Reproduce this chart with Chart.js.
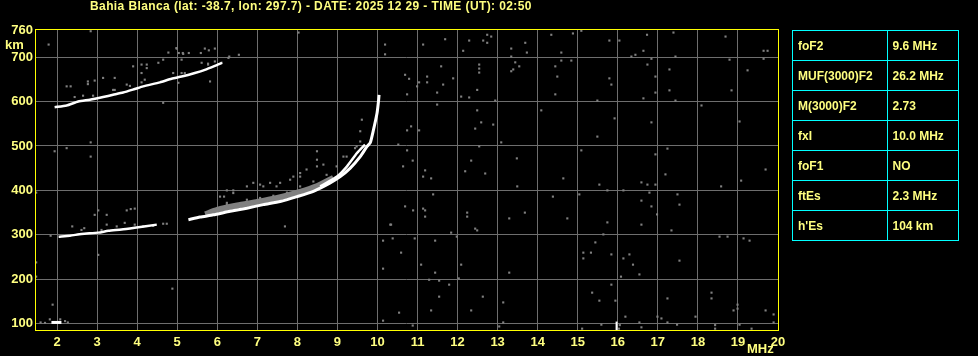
<!DOCTYPE html>
<html lang="en">
<head>
    <meta charset="UTF-8">
    <title>Ionogram Bahia Blanca</title>
    <script src="https://cdn.jsdelivr.net/npm/chart.js"></script>
    <style>
        body {
            margin: 0;
            background: #000;
            font-family: "Liberation Sans", Arial, sans-serif;
        }
        #wrap {
            position: relative;
            width: 978px;
            height: 356px;
        }
        #params {
            position: absolute;
            left: 792px;
            top: 30px;
            width: 167px;
            height: 211px;
            border-collapse: collapse;
            color: #ffff80;
            font-weight: bold;
            font-size: 12px;
        }
        #params td {
            border: 1px solid #00ffff;
            padding: 0 0 0 5px;
            height: 29px;
            white-space: nowrap;
        }
    </style>
</head>
<body>
<div id="wrap">
    <canvas id="iono" width="978" height="356"></canvas>
    <table id="params">
        <colgroup><col style="width:95px"><col style="width:72px"></colgroup>
    </table>
</div>

<script>
    // --- data (frequency MHz, virtual height km) ---
    const titleText = 'Bahia Blanca (lat: -38.7, lon: 297.7) - DATE: 2025 12 29 - TIME (UT): 02:50';
    const xTicks = [2, 3, 4, 5, 6, 7, 8, 9, 10, 11, 12, 13, 14, 15, 16, 17, 18, 19, 20];
    const yTicks = [100, 200, 300, 400, 500, 600, 700, 760];

    const paramNames = ['foF2', 'MUF(3000)F2', 'M(3000)F2', 'fxI', 'foF1', 'ftEs', "h'Es"];
    const paramValues = ['9.6 MHz', '26.2 MHz', '2.73', '10.0 MHz', 'NO', '2.3 MHz', '104 km'];

    // white traces
    const fTrace = [[5.28,334],[5.57,340],[5.90,345],[6.32,353],[6.74,360],[7.15,368],[7.57,375],[7.99,386],[8.40,398],[8.82,417],[9.07,431],[9.32,450],[9.57,476],[9.74,499],[9.82,507],[9.90,536],[9.99,574],[10.03,604],[10.04,615]];
    const fTraceO = [[8.57,409],[8.99,431],[9.24,454],[9.49,484],[9.69,503]];
    const f2Hop = [[1.94,587],[2.24,591],[2.53,600],[2.82,604],[3.15,610],[3.40,615],[3.65,620],[3.94,628],[4.15,634],[4.57,643],[4.86,651],[5.11,656],[5.44,664],[5.69,671],[5.94,680],[6.12,687]];
    const esHigh = [[2.04,296],[2.32,298],[2.61,302],[3.03,305],[3.28,309],[3.61,312],[3.94,316],[4.49,323]];
    const esLow = [[1.86,103],[1.95,103],[2.05,103],[2.11,103]];
    const spike16 = [[15.97,86],[15.97,105]];

    // grey spread above the F trace
    const fSpread = [[5.7,346],[6.0,356],[6.5,366],[7.0,374],[7.5,383],[8.0,395],[8.5,410],[8.9,428]];

    // grey echoes near the traces
    const clutter = [[4.78,710],[4.99,719],[5.04,709],[5.14,709],[5.29,709],[5.59,709],[5.69,719],[5.79,715],[5.94,719],[6.30,701],[6.54,705],
        [2.24,634],[2.34,634],[2.77,645],[2.77,639],[2.94,647],[3.15,653],[3.44,653],[3.40,626],[3.90,679],[4.11,683],[4.24,683],[4.24,675],[4.11,664],[4.19,649],
        [4.53,687],[4.65,694],[4.90,664],[5.11,694],[5.15,707],[5.61,687],[5.82,645],[6.28,698],[4.65,597],[5.03,642],[5.11,664],[5.77,683],[4.98,720],
        [2.44,610],[2.65,613],[2.90,613],[3.44,626],[4.11,643],[5.19,664],[5.77,685],[5.94,690],[6.11,687],[3.74,638],[3.82,635],
        [6.07,360],[6.24,372],[6.74,379],[7.07,383],[7.40,388],[7.74,395],[8.07,409],[8.40,420],[8.73,435],[8.98,454],[9.15,476],[8.49,488],[8.49,469],[8.49,454],
        [6.74,409],[7.07,413],[7.32,417],[7.57,417],[7.82,424],[8.07,439],[8.23,447],[8.65,458],[9.23,476],[9.48,499],[6.07,386],[6.40,394],[9.57,510],[9.61,559],
        [9.57,533],[9.44,495],[6.90,417],[7.15,409],[7.48,409],[7.90,431],[8.07,431],[5.89,356],[6.57,368],[7.24,379],[7.90,394],[8.57,413],
        [2.38,319],[2.61,311],[2.68,315],[3.11,311],[3.24,323],[3.49,319],[3.69,327],[3.94,323],[4.15,319],[4.40,320],[4.65,325],[4.74,325],
        [3.03,355],[2.94,345],[3.24,345],[3.74,355],[3.84,358],[3.94,359],[6.17,386],[6.24,400],[6.40,400],[6.15,360],[6.24,368],
        [1.82,110],[2.08,110],[2.20,106],[2.27,103],[1.70,102],[16.05,97]];

    // scattered noise
    const noiseHigh = [[11.14,728],[11.69,740],[12.29,737],[12.14,714],[12.64,737],[12.74,750],[12.84,746],[12.74,732],[13.34,719],[13.69,732],[13.73,710],[13.34,701],
        [14.34,750],[14.88,753],[15.09,759],[14.59,710],[14.59,692],[14.84,692],[15.79,737],[16.04,737],[16.73,750],[17.39,755],[16.64,714],[16.44,705],[16.34,701],
        [17.44,701],[16.84,696],[18.69,746],[18.79,694],[19.64,714],[19.74,714],[19.64,696],[10.69,660],[10.79,651],[11.24,656],[11.24,643],[11.04,643],[10.99,634],
        [11.59,679],[11.64,638],[11.89,652],[11.49,620],[10.74,616],[11.49,593],[12.54,683],[12.54,674],[12.54,665],[12.49,626],[12.29,609],[12.09,611],[12.94,602],
        [13.34,668],[13.39,672],[13.54,679],[13.44,688],[14.44,679],[14.49,656],[14.44,616],[15.49,602],[15.79,652],[15.84,638],[16.74,683],[16.94,656],[17.29,672],
        [17.29,625],[16.94,620],[16.64,607],[17.44,602],[18.84,625],[19.24,670],[18.09,591],[19.04,555],[14.09,580],[12.49,580],[12.59,553],[12.89,548],[12.44,539],
        [10.84,544],[10.74,535],[11.04,535],[15.92,562],[16.84,553],[15.49,521],[13.09,508],[12.54,499],[10.74,490],[10.88,467],[10.64,454],[11.19,445],[11.14,431],
        [11.34,427],[12.19,443],[12.34,467],[12.69,438],[13.48,472],[15.09,490],[14.64,427],[16.94,481],[17.24,494],[17.19,436],[19.69,447]];
    const noiseMid = [[13.49,409],[15.54,413],[16.59,418],[16.74,413],[16.94,413],[19.08,422],[18.58,409],[11.39,391],[10.69,364],[10.89,355],[11.14,359],[11.19,355],
        [11.19,341],[10.34,323],[12.24,350],[12.24,341],[11.84,305],[12.44,314],[12.49,310],[13.29,337],[13.68,350],[14.38,386],[14.74,337],[15.04,391],[15.74,400],
        [16.14,400],[16.79,395],[16.59,377],[16.84,364],[17.49,391],[17.54,368],[17.34,310],[16.98,346],[16.59,323],[15.74,328],[10.14,287],[10.38,292],[10.93,292],
        [11.44,287],[11.98,296],[10.59,260],[11.09,233],[10.14,224],[12.09,233],[11.44,215],[13.29,215],[15.64,301],[15.44,283],[15.14,260],[15.33,260],[15.14,247],
        [15.84,256],[16.14,247],[16.29,256],[16.38,233],[16.54,211],[16.08,206],[17.54,242],[18.54,296],[18.74,296],[19.14,292],[19.29,287]];
    const noiseLow = [[11.29,199],[11.54,197],[12.03,202],[11.79,188],[11.54,161],[12.63,161],[11.34,130],[10.54,125],[10.14,107],[10.88,96],[12.34,130],[13.14,148],
        [13.04,94],[13.14,103],[15.36,170],[15.84,188],[15.54,152],[15.94,152],[16.19,116],[16.54,103],[16.59,92],[17.24,157],[17.09,112],[17.24,103],[17.48,98],
        [16.99,116],[17.94,116],[18.34,170],[18.34,157],[18.43,97],[18.43,89],[18.89,130],[18.99,143],[18.99,134],[19.04,98],[19.34,89],[19.69,130],[19.89,121],
        [19.89,103],[15.11,89],[15.59,98],[16.03,89]];
    const noiseLeft = [[1.79,728],[2.84,758],[8.03,755],[10.19,728],[10.19,706],[1.94,488],[2.24,495],[2.84,508],[2.84,476],[1.48,395],[3.03,255],[1.48,238],
        [1.48,206],[4.88,179],[1.89,143],[1.59,103],[7.69,319],[10.32,323],[10.52,503],[1.84,298]];

    // parameter table
    const table = document.getElementById('params');
    paramNames.forEach((name, i) => {
        const row = table.insertRow();
        row.insertCell().textContent = name;
        row.insertCell().textContent = paramValues[i];
    });

    const pts = arr => arr.map(p => ({x: p[0], y: p[1]}));

    const trace = (arr, w) => ({
        data: pts(arr),
        showLine: true,
        borderColor: '#ffffff',
        borderWidth: w,
        pointRadius: 0,
        tension: 0.2
    });

    const dots = arr => ({
        data: pts(arr),
        pointStyle: 'rect',
        pointRadius: 1.5,
        borderWidth: 0,
        backgroundColor: '#808080'
    });

    const frame = {
        id: 'frame',
        afterDraw(chart) {
            const {ctx, chartArea: a} = chart;
            ctx.save();
            ctx.strokeStyle = '#ffff00';
            ctx.lineWidth = 1;
            ctx.strokeRect(Math.round(a.left) + 0.5, Math.round(a.top) + 0.5,
                Math.round(a.right - a.left), Math.round(a.bottom - a.top));
            ctx.fillStyle = '#ffff80';
            ctx.textBaseline = 'middle';
            ctx.font = 'bold 12px "Liberation Sans"';
            ctx.letterSpacing = '0.4px';
            ctx.fillText(titleText, 90, 7);
            ctx.letterSpacing = '0px';
            ctx.font = 'bold 13px "Liberation Sans"';
            ctx.fillText('km', 5, 45);
            ctx.fillText('MHz', 747, 349);
            ctx.restore();
        }
    };

    new Chart(document.getElementById('iono'), {
        type: 'scatter',
        data: {
            datasets: [
                trace(fTrace, 3),
                trace(fTraceO, 2.5),
                trace(f2Hop, 2.5),
                trace(esHigh, 2.5),
                trace(esLow, 3),
                trace(spike16, 2),
                {
                    data: pts(fSpread),
                    showLine: true,
                    borderColor: '#808080',
                    borderWidth: 6,
                    pointRadius: 0,
                    tension: 0.2
                },
                dots(clutter),
                dots(noiseHigh),
                dots(noiseMid),
                dots(noiseLow),
                dots(noiseLeft)
            ]
        },
        options: {
            responsive: false,
            animation: false,
            devicePixelRatio: 1,
            layout: {padding: {top: 29, right: 200, left: 0, bottom: 0}},
            plugins: {legend: {display: false}, tooltip: {enabled: false}},
            scales: {
                x: {
                    type: 'linear',
                    min: 1.45,
                    max: 20,
                    afterFit: s => { s.height = 26; },
                    afterBuildTicks: s => { s.ticks = xTicks.map(v => ({value: v})); },
                    border: {display: false},
                    grid: {
                        color: c => c.tick && c.tick.value === 20 ? 'rgba(0,0,0,0)' : '#6e6e6e',
                        drawTicks: false
                    },
                    ticks: {
                        color: '#ffff80',
                        font: {family: 'Liberation Sans', weight: 'bold', size: 13},
                        padding: 5,
                        maxRotation: 0,
                        autoSkip: false
                    }
                },
                y: {
                    type: 'linear',
                    min: 86,
                    max: 763,
                    afterFit: s => { s.width = 35; },
                    afterBuildTicks: s => { s.ticks = yTicks.map(v => ({value: v})); },
                    border: {display: false},
                    grid: {
                        color: c => c.tick && c.tick.value === 760 ? 'rgba(0,0,0,0)' : '#6e6e6e',
                        drawTicks: false
                    },
                    ticks: {
                        color: '#ffff80',
                        font: {family: 'Liberation Sans', weight: 'bold', size: 13},
                        padding: 2,
                        autoSkip: false
                    }
                }
            }
        },
        plugins: [frame]
    });
</script>
</body>
</html>
